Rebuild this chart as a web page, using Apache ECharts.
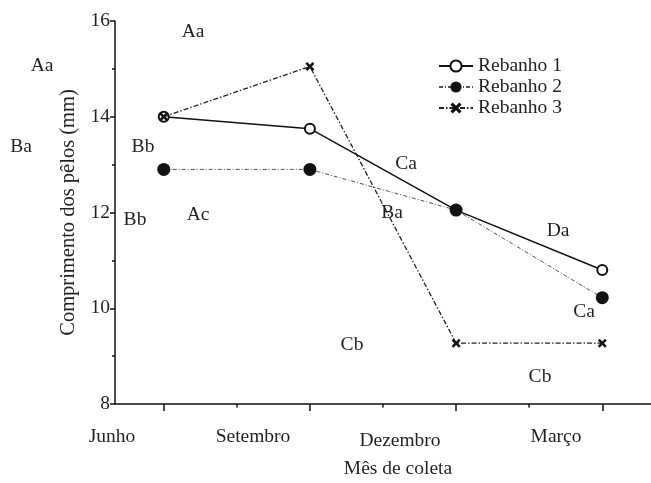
<!DOCTYPE html>
<html>
<head>
<meta charset="utf-8">
<script src="https://cdn.jsdelivr.net/npm/echarts@6/dist/echarts.min.js"></script>
<style>
html,body{margin:0;padding:0;background:#fff;}
#chart{width:651px;height:483px;}
</style>
</head>
<body>
<div id="chart"></div>
<script>
// ---- data ----
const months = ['Junho', 'Setembro', 'Dezembro', 'Março'];
const rebanho1 = [14.0, 13.75, 12.05, 10.8];
const rebanho2 = [12.9, 12.9, 12.05, 10.22];
const rebanho3 = [14.0, 15.05, 9.27, 9.27];
const seriesNames = ['Rebanho 1', 'Rebanho 2', 'Rebanho 3'];
const annotations = ['Aa', 'Aa', 'Ba', 'Bb', 'Bb', 'Ac', 'Ca', 'Ba', 'Da', 'Ca', 'Cb', 'Cb'];
const xTitle = 'Mês de coleta';
const yTitle = 'Comprimento dos pêlos (mm)';

// ---- layout / style ----
const FONT = 'Liberation Serif';
const FS = 19.5;
const TXT = '#231f20';
const annPos = [[193,32],[42,66],[21,147],[143,147],[135,220],[198,215],[406,164],[392,213],[558,231],[584,312],[352,345],[540,377]];
const monthPos = [[112,437],[253,437],[400,441],[556,437]];

function toXY(arr){ return arr.map((v,i)=>[i+1, v]); }

const chart = echarts.init(document.getElementById('chart'));
const xStar = 'path://M0,2 L2,0 L5,3 L8,0 L10,2 L7,5 L10,8 L8,10 L5,7 L2,10 L0,8 L3,5 Z';

const fontStr = FS + 'px "' + FONT + '"';
const graphics = [];
annotations.forEach((t,i)=>{
  graphics.push({type:'text', x:annPos[i][0], y:annPos[i][1], style:{text:t, fill:TXT, font:fontStr, textAlign:'center', textVerticalAlign:'middle'}});
});
months.forEach((t,i)=>{
  graphics.push({type:'text', x:monthPos[i][0], y:monthPos[i][1], style:{text:t, fill:TXT, font:fontStr, textAlign:'center', textVerticalAlign:'middle'}});
});
graphics.push({type:'text', x:398, y:469, style:{text:xTitle, fill:TXT, font:fontStr, textAlign:'center', textVerticalAlign:'middle'}});

chart.setOption({
  animation:false,
  backgroundColor:'#fff',
  grid:{left:115, right:0, top:21, bottom:79},
  legend:{
    orient:'vertical', left:433, top:51, itemWidth:34, itemHeight:14, itemGap:1,
    textStyle:{fontFamily:FONT, fontSize:FS, color:TXT, lineHeight:20},
    data:seriesNames
  },
  xAxis:[{
    type:'value', min:2/3, max:13/3,
    axisLine:{lineStyle:{color:'#111', width:1.5}},
    axisTick:{show:true, inside:false, length:7, lineStyle:{color:'#111', width:1.5}, customValues:[1,2,3,4]},
    axisLabel:{show:false}, splitLine:{show:false}
  },{
    type:'value', min:2/3, max:13/3, position:'bottom',
    axisLine:{show:false},
    axisTick:{show:true, inside:false, length:3.5, lineStyle:{color:'#111', width:1.5}, customValues:[1.5,2.5,3.5]},
    axisLabel:{show:false}, splitLine:{show:false}
  }],
  yAxis:{
    type:'value', min:8, max:16, interval:2,
    name:yTitle, nameLocation:'middle', nameGap:34,
    nameTextStyle:{fontFamily:FONT, fontSize:20.5, color:TXT},
    axisLine:{show:true, lineStyle:{color:'#111', width:1.5}},
    axisTick:{show:true, inside:false, length:5, lineStyle:{color:'#111', width:1.5}},
    minorTick:{show:true, splitNumber:2, length:3, lineStyle:{color:'#111', width:1.5}},
    axisLabel:{fontFamily:FONT, fontSize:FS, color:TXT, margin:5},
    splitLine:{show:false}
  },
  series:[{
    name:seriesNames[0], type:'line', data:toXY(rebanho1),
    symbol:'emptyCircle', symbolSize:10,
    lineStyle:{color:'#111', width:1.5, type:'solid'},
    itemStyle:{color:'#111', borderColor:'#111', borderWidth:1.5},
    z:2
  },{
    name:seriesNames[1], type:'line', data:toXY(rebanho2),
    symbol:'circle', symbolSize:13,
    lineStyle:{color:'#555', width:1, type:[4,2,1,2]},
    itemStyle:{color:'#111'},
    z:3
  },{
    name:seriesNames[2], type:'line', data:toXY(rebanho3),
    symbol:xStar, symbolSize:9,
    lineStyle:{color:'#222', width:1.3, type:[5,2,1.5,2]},
    itemStyle:{color:'#111'},
    z:4
  }],
  graphic:graphics
});
</script>
</body>
</html>
